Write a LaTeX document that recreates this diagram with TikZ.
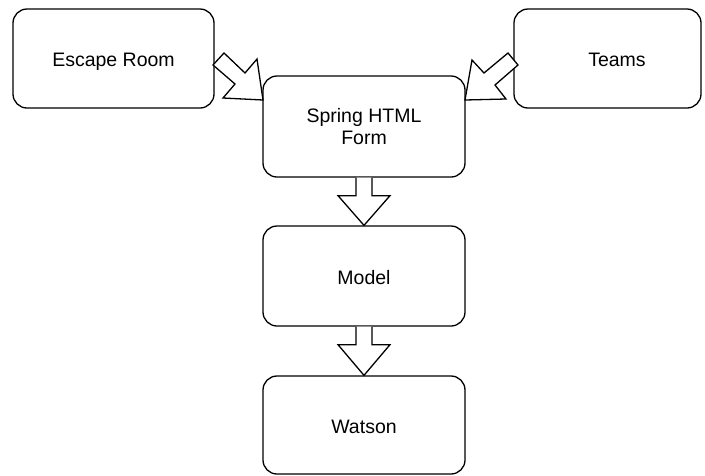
\documentclass[tikz,border=0pt]{standalone}
\usepackage{fontspec}
\setmainfont{Liberation Sans}
\usetikzlibrary{calc}
\begin{document}
\begin{tikzpicture}[x=1pt,y=-1pt,
  box/.style={draw=black,line width=1.3pt,rounded corners=14pt,fill=white,
    inner sep=0pt,align=center,font=\fontsize{19.5}{22.5}\selectfont},
  oneline/.style={text height=16pt,text depth=0pt},
  blockarrow/.style={draw=black,fill=white,line width=1.3pt,line join=miter}]
\useasboundingbox (0,0) rectangle (705,475);
\node[box,oneline,minimum width=201pt,minimum height=99pt] (escape) at (113.5,58.5) {Escape Room};
\node[box,oneline,minimum width=187pt,minimum height=99pt] (teams) at (607.5,58.5) {\hspace*{19pt}Teams};
\node[box,minimum width=202pt,minimum height=101pt] (spring) at (364,126.5) {Spring HTML\\Form};
\node[box,oneline,minimum width=202pt,minimum height=100pt] (model) at (364,276) {Model};
\node[box,oneline,minimum width=202pt,minimum height=98pt] (watson) at (364,425) {Watson};
% block arrows
\draw[blockarrow] (224,53) -- (245,73) -- (257,59) -- (263,100) -- (223,98) -- (235,84) -- (213,65) -- cycle;
\draw[blockarrow] (508,53) -- (484,73) -- (472,60) -- (465,100) -- (506,99) -- (495,85) -- (518,65) -- cycle;
\draw[blockarrow] ($(spring.south)+(-8,0)$) -- ($(spring.south)+(-8,18)$) -- ($(spring.south)+(-26,18)$)
  -- (model.north) -- ($(spring.south)+(26,18)$) -- ($(spring.south)+(8,18)$) -- ($(spring.south)+(8,0)$);
\draw[blockarrow] ($(model.south)+(-8,0)$) -- ($(model.south)+(-8,18)$) -- ($(model.south)+(-26,18)$)
  -- (watson.north) -- ($(model.south)+(26,18)$) -- ($(model.south)+(8,18)$) -- ($(model.south)+(8,0)$);
\end{tikzpicture}
\end{document}
